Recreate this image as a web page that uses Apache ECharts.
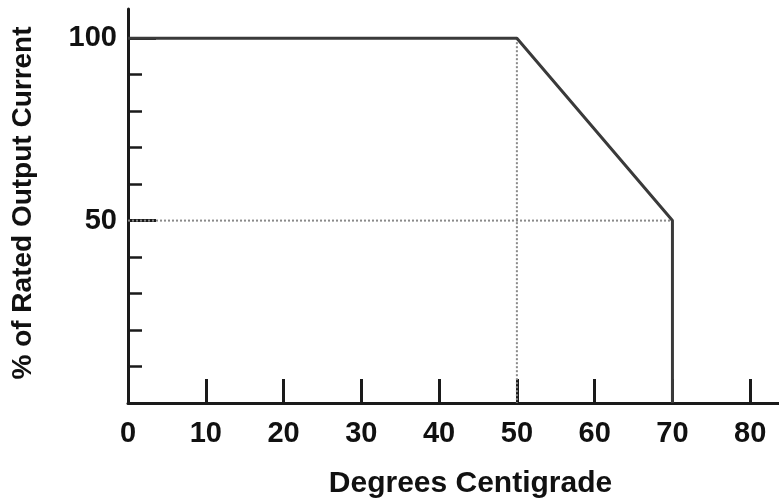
<!DOCTYPE html>
<html>
<head>
<meta charset="utf-8">
<script src="https://cdn.jsdelivr.net/npm/echarts@6/dist/echarts.min.js"></script>
<style>
  html, body { margin: 0; padding: 0; background: #fff; }
  #chart { width: 779px; height: 500px; }
</style>
</head>
<body>
<div id="chart"></div>
<script>
// derating curve
var tempX = [0, 50, 70, 70];
var currentY = [100, 100, 50, 0];
// dotted guides
var guideVX = [50, 50];
var guideVY = [100, 0];
var guideHX = [0, 70];
var guideHY = [50, 50];
// ticks / labels
var xTicks = [0, 10, 20, 30, 40, 50, 60, 70, 80];
var yMinorTicks = [10, 20, 30, 40, 60, 70, 80, 90];
var yMajorTicks = [50, 100];

function pairs(xs, ys) {
  return xs.map(function (x, i) { return [x, ys[i]]; });
}

var chart = echarts.init(document.getElementById('chart'));
var font = 'Liberation Sans, Arial, sans-serif';

var option = {
  animation: false,
  grid: { left: 128, right: 0, top: 9, bottom: 97, outerBoundsMode: 'none', containLabel: false },
  xAxis: {
    type: 'value',
    min: 0,
    max: 83.7,
    name: 'Degrees Centigrade',
    nameLocation: 'middle',
    nameGap: 66,
    nameTextStyle: { fontFamily: font, fontWeight: 'bold', fontSize: 30, color: '#111', padding: [0, 0, 0, 34] },
    axisLine: { show: true, lineStyle: { color: '#1a1a1a', width: 3 } },
    axisTick: { show: true, inside: true, length: 24, customValues: xTicks, lineStyle: { color: '#1a1a1a', width: 3 } },
    axisLabel: { customValues: xTicks, margin: 16, fontFamily: font, fontWeight: 'bold', fontSize: 29, color: '#111' },
    splitLine: { show: false }
  },
  yAxis: [{
    type: 'value',
    min: 0,
    max: 108,
    name: '% of Rated Output Current',
    nameLocation: 'middle',
    nameGap: 91,
    nameTextStyle: { fontFamily: font, fontWeight: 'bold', fontSize: 28, color: '#111', padding: [0, 0, 0, 6] },
    axisLine: { show: true, lineStyle: { color: '#1a1a1a', width: 3 } },
    axisTick: { show: true, inside: true, length: 14, customValues: yMinorTicks, lineStyle: { color: '#1a1a1a', width: 2.5 } },
    axisLabel: { customValues: yMajorTicks, margin: 11, fontFamily: font, fontWeight: 'bold', fontSize: 29, color: '#111' },
    splitLine: { show: false }
  }, {
    type: 'value',
    min: 0,
    max: 108,
    position: 'left',
    axisLine: { show: false },
    axisTick: { show: true, inside: true, length: 28, customValues: yMajorTicks, lineStyle: { color: '#1a1a1a', width: 3 } },
    axisLabel: { show: false },
    splitLine: { show: false }
  }],
  series: [{
    type: 'line',
    data: pairs(guideVX, guideVY),
    symbol: 'none',
    lineStyle: { color: '#8a8a8a', width: 2, type: [2, 2] },
    z: 1
  }, {
    type: 'line',
    data: pairs(guideHX, guideHY),
    symbol: 'none',
    lineStyle: { color: '#8a8a8a', width: 2, type: [2, 2] },
    z: 1
  }, {
    type: 'line',
    data: pairs(tempX, currentY),
    symbol: 'none',
    lineStyle: { color: '#3a3a3a', width: 3 },
    z: 3
  }]
};
chart.setOption(option);
</script>
</body>
</html>
